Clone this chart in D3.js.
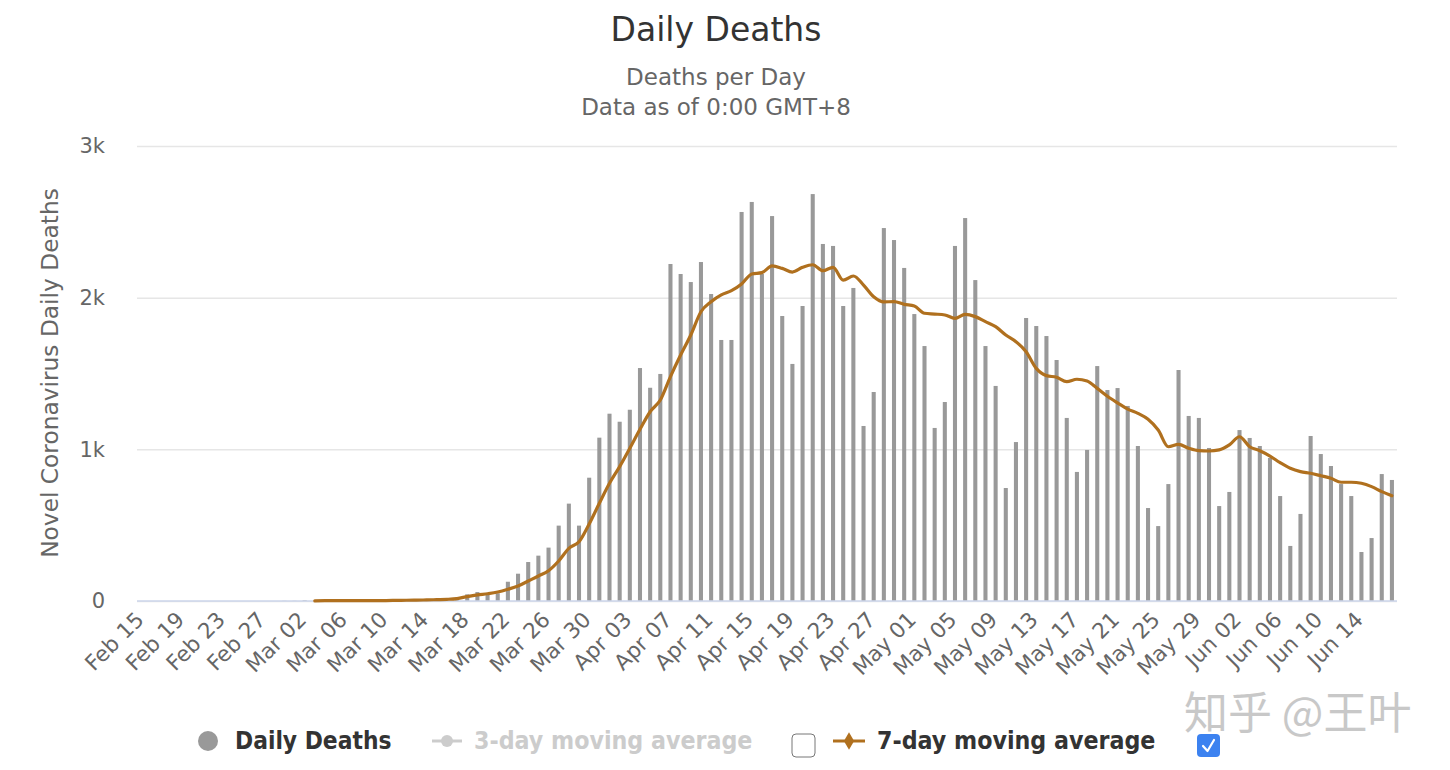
<!DOCTYPE html>
<html>
<head>
<meta charset="utf-8">
<script src="https://cdn.jsdelivr.net/npm/d3@7/dist/d3.min.js"></script>
<style>
  html, body { margin: 0; padding: 0; background: #fff; }
  svg { display: block; }
</style>
</head>
<body>
<svg id="chart" width="1450" height="770"></svg>
<script>
const categories = [
  "Feb 15","Feb 16","Feb 17","Feb 18","Feb 19","Feb 20","Feb 21","Feb 22","Feb 23","Feb 24","Feb 25","Feb 26","Feb 27","Feb 28","Feb 29",
  "Mar 01","Mar 02","Mar 03","Mar 04","Mar 05","Mar 06","Mar 07","Mar 08","Mar 09","Mar 10","Mar 11","Mar 12","Mar 13","Mar 14","Mar 15","Mar 16","Mar 17","Mar 18","Mar 19","Mar 20","Mar 21","Mar 22","Mar 23","Mar 24","Mar 25","Mar 26","Mar 27","Mar 28","Mar 29","Mar 30","Mar 31",
  "Apr 01","Apr 02","Apr 03","Apr 04","Apr 05","Apr 06","Apr 07","Apr 08","Apr 09","Apr 10","Apr 11","Apr 12","Apr 13","Apr 14","Apr 15","Apr 16","Apr 17","Apr 18","Apr 19","Apr 20","Apr 21","Apr 22","Apr 23","Apr 24","Apr 25","Apr 26","Apr 27","Apr 28","Apr 29","Apr 30",
  "May 01","May 02","May 03","May 04","May 05","May 06","May 07","May 08","May 09","May 10","May 11","May 12","May 13","May 14","May 15","May 16","May 17","May 18","May 19","May 20","May 21","May 22","May 23","May 24","May 25","May 26","May 27","May 28","May 29","May 30","May 31",
  "Jun 01","Jun 02","Jun 03","Jun 04","Jun 05","Jun 06","Jun 07","Jun 08","Jun 09","Jun 10","Jun 11","Jun 12","Jun 13","Jun 14","Jun 15","Jun 16","Jun 17"
];

const dailyDeaths = [
  0,0,0,0,0,0,0,0,0,0,0,0,0,0,1,
  1,4,1,4,1,2,3,4,4,5,8,7,10,10,12,18,23,44,59,51,51,127,180,257,299,352,497,642,497,813,1077,
  1235,1182,1261,1536,1406,1497,2222,2156,2103,2235,2024,1721,1721,2565,2631,2156,2538,1879,1563,1945,2683,2354,2341,1945,2064,1154,1378,2459,2380,2196,
  1892,1681,1141,1312,2341,2525,2116,1681,1418,745,1048,1866,1813,1747,1589,1207,851,996,1549,1391,1404,1286,1022,613,494,771,1523,1220,1207,1009,626,
  719,1127,1075,1022,943,692,363,574,1088,969,890,771,692,323,415,837,798
];

const movingAvg7 = [
  null,null,null,null,null,null,null,null,null,null,null,null,null,null,null,
  null,null,1,2,2,2,2,3,3,3,4,5,6,7,9,11,16,29,40,48,59,77,99,132,165,200,264,347,391,508,644,
  776,886,1007,1132,1248,1325,1480,1622,1754,1907,1973,2018,2046,2090,2156,2165,2209,2193,2169,2200,2217,2178,2200,2116,2143,2083,2006,1972,1974,1956,
  1945,1897,1892,1886,1864,1890,1875,1842,1809,1754,1710,1644,1534,1486,1475,1446,1462,1451,1402,1350,1306,1265,1237,1198,1127,1017,1033,1007,991,989,996,
  1029,1083,1017,991,956,912,875,853,842,826,809,783,783,776,754,721,694
];

const tickLabels = ["Feb 15","Feb 19","Feb 23","Feb 27","Mar 02","Mar 06","Mar 10","Mar 14","Mar 18","Mar 22","Mar 26","Mar 30",
  "Apr 03","Apr 07","Apr 11","Apr 15","Apr 19","Apr 23","Apr 27","May 01","May 05","May 09","May 13","May 17","May 21","May 25","May 29",
  "Jun 02","Jun 06","Jun 10","Jun 14"];

const yTicks = [0, 1000, 2000, 3000];

(function () {
const svg = d3.select("#chart");
const pL = 137, pR = 1397, pT = 146, pB = 601;
const font = "'DejaVu Sans', 'Lucida Grande', sans-serif";
const condensed = "'DejaVu Sans Condensed', 'DejaVu Sans', sans-serif";

const x = d3.scaleBand().domain(categories).range([pL, pR]).paddingInner(0.6).paddingOuter(0.3);
const y = d3.scaleLinear().domain([0, 3000]).range([pB, pT]);

// Title
svg.append("text").attr("x", 716).attr("y", 41).attr("text-anchor", "middle")
  .style("font-family", font).style("font-size", "33px").style("fill", "#333").text("Daily Deaths");
svg.append("text").attr("x", 716).attr("y", 85).attr("text-anchor", "middle")
  .style("font-family", font).style("font-size", "23px").style("fill", "#666").text("Deaths per Day");
svg.append("text").attr("x", 716).attr("y", 115).attr("text-anchor", "middle")
  .style("font-family", font).style("font-size", "23px").style("fill", "#666").text("Data as of 0:00 GMT+8");

// Grid + y labels
const yAxis = d3.axisLeft(y).tickValues(yTicks).tickSize(-(pR - pL)).tickPadding(32)
  .tickFormat(d => d === 0 ? "0" : (d / 1000) + "k");
const gy = svg.append("g").attr("transform", `translate(${pL},0)`).call(yAxis);
gy.select(".domain").remove();
gy.selectAll(".tick line").attr("stroke", "#e6e6e6").attr("stroke-width", 1.5);
gy.selectAll(".tick text").style("font-family", font).style("font-size", "21px").style("fill", "#666");

// Y title
svg.append("text").attr("transform", "translate(58,373) rotate(-90)").attr("text-anchor", "middle")
  .style("font-family", font).style("font-size", "23.3px").style("fill", "#666")
  .text("Novel Coronavirus Daily Deaths");

// Bars
svg.append("g").selectAll("rect").data(categories).join("rect")
  .attr("x", d => x(d))
  .attr("width", x.bandwidth())
  .attr("y", (d, i) => y(dailyDeaths[i]))
  .attr("height", (d, i) => y(0) - y(dailyDeaths[i]))
  .attr("fill", "#999");

// X axis
const xAxis = d3.axisBottom(x).tickValues(tickLabels).tickSize(0).tickPadding(0);
const gx = svg.append("g").attr("transform", `translate(0,${pB})`).call(xAxis);
gx.select(".domain").attr("stroke", "#ccd6eb").attr("stroke-width", 1.5).attr("d", `M${pL},0H${pR}`);
gx.selectAll(".tick text")
  .attr("text-anchor", "end")
  .attr("dy", null)
  .attr("y", 0)
  .attr("transform", "translate(3,20) rotate(-45)")
  .style("font-family", font).style("font-size", "21.5px").style("fill", "#666");

// 7-day moving average line
const line = d3.line()
  .defined(d => d.v !== null)
  .x(d => x(d.c) + x.bandwidth() / 2)
  .y(d => y(d.v))
  .curve(d3.curveMonotoneX);
const lineData = categories.map((c, i) => ({ c, v: movingAvg7[i] }));
svg.append("path").datum(lineData).attr("d", line)
  .attr("fill", "none").attr("stroke", "#b0701e").attr("stroke-width", 3.2)
  .attr("stroke-linejoin", "round").attr("stroke-linecap", "round");

// Legend
const lg = svg.append("g");
const ly = 741;
lg.append("circle").attr("cx", 208).attr("cy", ly).attr("r", 10).attr("fill", "#999");
lg.append("text").attr("x", 235).attr("y", ly + 8).style("font-family", condensed)
  .style("font-weight", "bold").style("font-size", "24.3px").style("fill", "#333").text("Daily Deaths");

lg.append("line").attr("x1", 432).attr("x2", 462).attr("y1", ly).attr("y2", ly).attr("stroke", "#ccc").attr("stroke-width", 3);
lg.append("circle").attr("cx", 447).attr("cy", ly).attr("r", 6).attr("fill", "#ccc");
lg.append("text").attr("x", 474).attr("y", ly + 8).style("font-family", condensed)
  .style("font-weight", "bold").style("font-size", "24.7px").style("fill", "#ccc").text("3-day moving average");

lg.append("rect").attr("x", 792).attr("y", 734).attr("width", 23).attr("height", 23).attr("rx", 4)
  .attr("fill", "#fff").attr("stroke", "#777").attr("stroke-width", 1);

lg.append("line").attr("x1", 833).attr("x2", 865).attr("y1", ly).attr("y2", ly).attr("stroke", "#b0701e").attr("stroke-width", 3);
lg.append("path").attr("d", d3.symbol(d3.symbolDiamond, 90)()).attr("transform", `translate(849,${ly})`).attr("fill", "#b0701e");
lg.append("text").attr("x", 877).attr("y", ly + 8).style("font-family", condensed)
  .style("font-weight", "bold").style("font-size", "24.7px").style("fill", "#333").text("7-day moving average");

lg.append("rect").attr("x", 1197).attr("y", 734).attr("width", 23).attr("height", 23).attr("rx", 4)
  .attr("fill", "#3c82f0");
lg.append("path").attr("d", "M1203,746 L1207.5,751 L1214,740").attr("fill", "none").attr("stroke", "#fff")
  .attr("stroke-width", 2.2).attr("stroke-linecap", "round").attr("stroke-linejoin", "round");

// Watermark
svg.append("text").attr("x", 1184).attr("y", 729)
  .style("font-family", "'Noto Sans CJK SC', sans-serif").style("font-size", "44px")
  .style("fill", "#bbb").style("opacity", 0.8).text("知乎 @王叶");
})();
</script>
</body>
</html>
